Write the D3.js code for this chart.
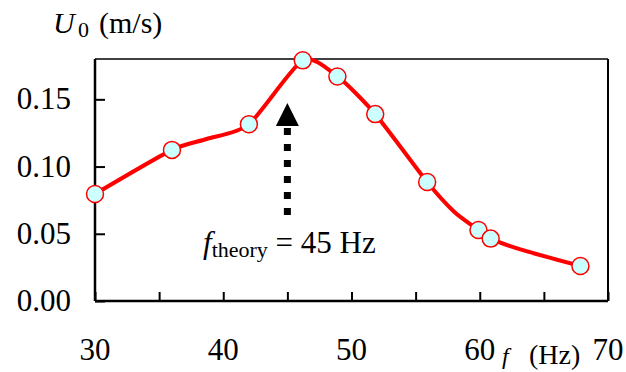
<!DOCTYPE html>
<html>
<head>
<meta charset="utf-8">
<script src="https://cdn.jsdelivr.net/npm/d3@7"></script>
<style>
  body { margin: 0; background: #fff; }
  text { font-family: "Liberation Serif", "Times New Roman", serif; fill: #000; }
</style>
</head>
<body>
<div id="chart"></div>
<script>
// measured points (markers)
var freq = [30, 36, 42, 46.2, 48.9, 51.85, 55.9, 59.9, 60.85, 67.85];
var u0 = [0.0796, 0.1124, 0.1315, 0.179, 0.167, 0.139, 0.0885, 0.0528, 0.0464, 0.026];
// the smoothed line also passes some unmarked points
var lineFreq = [30, 36, 38.7, 42, 46.2, 48.9, 51.85, 55.9, 58.0, 59.9, 60.85, 63.3, 67.85];
var lineU0 = [0.0796, 0.1124, 0.1205, 0.1315, 0.179, 0.167, 0.139, 0.0885, 0.0664, 0.0528, 0.0464, 0.038, 0.026];

var xTicks = [30, 35, 40, 45, 50, 55, 60, 65, 70];
var xLabels = [30, 40, 50, 60, 70];
var yTicks = [0, 0.05, 0.10, 0.15];
var theoryF = 45;

var width = 626, height = 372;
var plotL = 95, plotR = 608, plotT = 59, plotB = 301;

var svg = d3.select("#chart").append("svg")
  .attr("width", width)
  .attr("height", height);

var x = d3.scaleLinear().domain([30, 70]).range([plotL, plotR]);
var y = d3.scaleLinear().domain([0, 0.18]).range([plotB, plotT]);

// frame: top and right thin lines
svg.append("line").attr("x1", plotL).attr("x2", plotR).attr("y1", plotT).attr("y2", plotT)
  .attr("stroke", "#000").attr("stroke-width", 1.5);
svg.append("line").attr("x1", plotR).attr("x2", plotR).attr("y1", plotT).attr("y2", plotB)
  .attr("stroke", "#000").attr("stroke-width", 2);

// y axis, ticks inward
var yAxis = svg.append("g").attr("transform", "translate(" + plotL + ",0)")
  .call(d3.axisRight(y).tickValues(yTicks).tickSize(10).tickFormat(""));
yAxis.select(".domain").attr("stroke-width", 2.5).attr("d", "M0," + plotB + "V" + plotT);
yAxis.selectAll(".tick line").attr("stroke-width", 2);

svg.selectAll(".ylab").data(yTicks).enter().append("text")
  .attr("class", "ylab")
  .attr("x", 71)
  .attr("y", function(d) { return y(d) + 10; })
  .attr("text-anchor", "end")
  .style("font-size", "31px")
  .text(function(d) { return d3.format(".2f")(d); });

// x axis, ticks inward
var xAxis = svg.append("g").attr("transform", "translate(0," + plotB + ")")
  .call(d3.axisTop(x).tickValues(xTicks).tickSize(9).tickFormat(""));
xAxis.select(".domain").attr("stroke-width", 2.5).attr("d", "M" + plotL + ",0H" + plotR);
xAxis.selectAll(".tick line").attr("stroke-width", 2);

svg.selectAll(".xlab").data(xLabels).enter().append("text")
  .attr("class", "xlab")
  .attr("x", function(d) { return x(d); })
  .attr("y", 360)
  .attr("text-anchor", "middle")
  .style("font-size", "31px")
  .text(function(d) { return d; });

// axis titles
var yt = svg.append("text").attr("x", 53).attr("y", 33).style("font-size", "30px");
yt.append("tspan").style("font-style", "italic").text("U");
yt.append("tspan").attr("x", 78).attr("y", 37).style("font-size", "22px").text("0");
yt.append("tspan").attr("x", 99).attr("y", 33).text("(m/s)");

var xt = svg.append("text").attr("x", 502).attr("y", 364).style("font-size", "24px");
xt.append("tspan").style("font-style", "italic").text("f");
xt.append("tspan").attr("x", 529).style("font-size", "28px").text("(Hz)");

// smoothed line
var line = d3.line()
  .x(function(d) { return x(d[0]); })
  .y(function(d) { return y(d[1]); })
  .curve(d3.curveCardinal.tension(0.3));

svg.append("path")
  .datum(d3.zip(lineFreq, lineU0))
  .attr("d", line)
  .attr("fill", "none")
  .attr("stroke", "#ff0000")
  .attr("stroke-width", 4);

svg.selectAll(".pt").data(d3.zip(freq, u0)).enter().append("circle")
  .attr("class", "pt")
  .attr("cx", function(d) { return x(d[0]); })
  .attr("cy", function(d) { return y(d[1]); })
  .attr("r", 8.5)
  .attr("fill", "#ccffff")
  .attr("stroke", "#ff0000")
  .attr("stroke-width", 1.5);

// theory arrow
var ax = x(theoryF);
svg.append("line")
  .attr("x1", ax).attr("x2", ax)
  .attr("y1", 215).attr("y2", 124)
  .attr("stroke", "#000")
  .attr("stroke-width", 7)
  .attr("stroke-dasharray", "7,9");
svg.append("path")
  .attr("d", "M" + (ax - 11.5) + ",126L" + ax + ",103L" + (ax + 11.5) + ",126Z")
  .attr("fill", "#000");

var tt = svg.append("text").attr("x", 203).attr("y", 253).style("font-size", "31px");
tt.append("tspan").style("font-style", "italic").text("f");
tt.append("tspan").attr("y", 257).style("font-size", "22px").text("theory");
tt.append("tspan").attr("y", 253).text(" = 45 Hz");
</script>
</body>
</html>
